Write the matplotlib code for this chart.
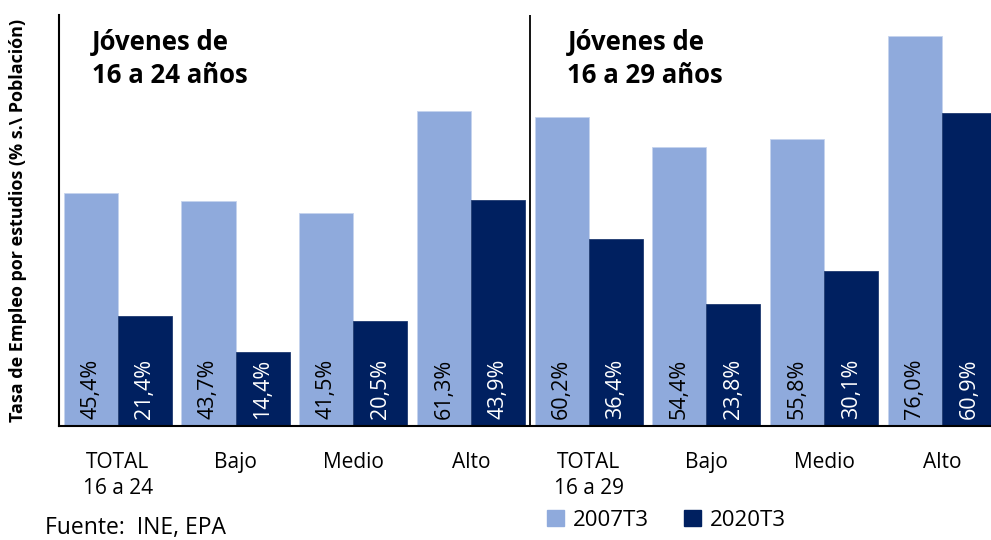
import matplotlib.pyplot as plt
import numpy as np
from matplotlib.patches import Patch

plt.rcParams['font.family'] = ['Open Sans', 'DejaVu Sans']

# Datos
categorias = ['TOTAL\n16 a 24', 'Bajo', 'Medio', 'Alto',
              'TOTAL\n16 a 29', 'Bajo', 'Medio', 'Alto']
v2007 = [45.4, 43.7, 41.5, 61.3, 60.2, 54.4, 55.8, 76.0]
v2020 = [21.4, 14.4, 20.5, 43.9, 36.4, 23.8, 30.1, 60.9]
series = ['2007T3', '2020T3']

c_claro = '#8FAADC'
c_oscuro = '#002060'

fig = plt.figure(figsize=(9.91, 5.4), dpi=100)
ax = fig.add_axes([59/991, 114/540, 8*117.7/991, 411/540])

x = np.arange(len(categorias))
w = 0.46
ax.bar(x - w/2, v2007, w, color=c_claro, edgecolor='#C5D3EE', linewidth=0.6)
ax.bar(x + w/2, v2020, w, color=c_oscuro, edgecolor='#1F3A70', linewidth=0.6)

# Etiquetas dentro de las barras
for xi, v in zip(x, v2007):
    ax.text(xi - w/2, 1.4, f'{v:.1f}%'.replace('.', ','), rotation=90,
            ha='center', va='bottom', fontsize=15.5, color='black')
for xi, v in zip(x, v2020):
    ax.text(xi + w/2, 1.4, f'{v:.1f}%'.replace('.', ','), rotation=90,
            ha='center', va='bottom', fontsize=15.5, color='white')

ax.set_xlim(-0.5, len(categorias) - 0.5)
ax.set_ylim(0, 80)
ax.set_xticks(x)
ax.set_xticklabels(categorias, fontsize=15, linespacing=1.3, va='top')
ax.tick_params(axis='x', length=0, pad=19)
ax.set_yticks([])
for s in ['top', 'right']:
    ax.spines[s].set_visible(False)
ax.spines['left'].set_linewidth(1.5)
ax.spines['bottom'].set_linewidth(1.5)

# Separador entre grupos
ax.axvline(3.5, color='black', linewidth=1.3)

ax.text(0.035, 0.965, 'Jóvenes de\n16 a 24 años', transform=ax.transAxes,
        ha='left', va='top', fontsize=18.5, fontweight='bold', linespacing=1.25)
ax.text(0.54, 0.965, 'Jóvenes de\n16 a 29 años', transform=ax.transAxes,
        ha='left', va='top', fontsize=18.5, fontweight='bold', linespacing=1.25)

fig.text(18/991, (540 - 220)/540, 'Tasa de Empleo por estudios (% s.\\ Población)', rotation=90,
         ha='center', va='center', fontsize=13, fontweight='bold')

fig.text(45/991, 12/540, 'Fuente:  INE, EPA', ha='left', va='center', fontsize=16.5)

handles = [Patch(color=c_claro), Patch(color=c_oscuro)]
fig.legend(handles, series, loc='center left', bbox_to_anchor=(527/991, 20/540),
           ncol=2, frameon=False, fontsize=16, handlelength=0.75, handleheight=0.75,
           handletextpad=0.4, columnspacing=1.6)

fig.savefig('out.png', dpi=100)
